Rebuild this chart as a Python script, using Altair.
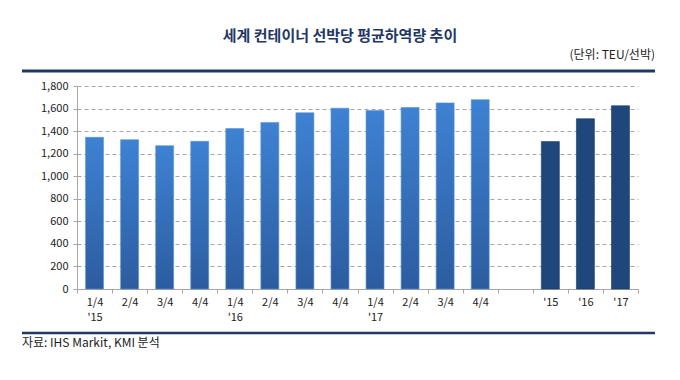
import altair as alt
import pandas as pd

# ---- data ----
quarter_keys = ["q1_15", "q2_15", "q3_15", "q4_15", "q1_16", "q2_16", "q3_16", "q4_16",
                "q1_17", "q2_17", "q3_17", "q4_17"]
quarter_labels = [["1/4", "'15"], "2/4", "3/4", "4/4", ["1/4", "'16"], "2/4", "3/4", "4/4",
                  ["1/4", "'17"], "2/4", "3/4", "4/4"]
quarter_values = [1345, 1324, 1271, 1309, 1423, 1477, 1563, 1603, 1582, 1610, 1650, 1679]

year_keys = ["y15", "y16", "y17"]
year_labels = ["'15", "'16", "'17"]
year_values = [1307, 1510, 1625]

gap_key = "gap"
y_ticks = [0, 200, 400, 600, 800, 1000, 1200, 1400, 1600, 1800]

title_text = "세계 컨테이너 선박당 평균하역량 추이"
unit_text = "(단위: TEU/선박)"
source_text = "자료: IHS Markit, KMI 분석"

# ---- build ----
domain = quarter_keys + [gap_key] + year_keys
df_q = pd.DataFrame({"key": quarter_keys, "value": quarter_values})
df_y = pd.DataFrame({"key": year_keys, "value": year_values})


def js(v):
    if isinstance(v, list):
        return "[" + ",".join('"' + s + '"' for s in v) + "]"
    return '"' + v + '"'


label_expr = '""'
for k, lab in reversed(list(zip(quarter_keys + year_keys, quarter_labels + year_labels))):
    label_expr = f'datum.value == "{k}" ? {js(lab)} : ({label_expr})'

FONT = "Noto Sans CJK KR"
GRAY = "#a6a6a6"
NAVY = "#1f3a64"

x_enc = alt.X(
    "key:N",
    scale=alt.Scale(domain=domain, paddingInner=0, paddingOuter=0),
    axis=alt.Axis(
        title=None, labelExpr=label_expr, labelAngle=0, tickBand="extent",
        tickSize=4, tickColor=GRAY, domainColor=GRAY, labelFontSize=11,
        labelColor="#222222", labelFont=FONT, labelPadding=3, labelLineHeight=15,
        labelBaseline="top", grid=False,
    ),
)
y_enc = alt.Y(
    "value:Q",
    scale=alt.Scale(domain=[0, 1800], nice=False),
    axis=alt.Axis(
        title=None, values=y_ticks, format=",d", grid=True, gridDash=[4, 3],
        gridColor=GRAY, domainColor=GRAY, tickColor=GRAY, tickSize=4,
        labelFontSize=11, labelColor="#222222", labelFont=FONT, labelPadding=5,
    ),
)

grad = alt.Gradient(
    gradient="linear",
    stops=[alt.GradientStop(color="#3e82d3", offset=0),
           alt.GradientStop(color="#2c5c9f", offset=1)],
    x1=0, x2=0, y1=0, y2=1,
)

bars_q = alt.Chart(df_q).mark_bar(size=18, color=grad, stroke="#5b93d6", strokeWidth=0.6).encode(
    x=x_enc, y=y_enc)
bars_y = alt.Chart(df_y).mark_bar(size=18, color="#1f477c", stroke="#193a66", strokeWidth=0.6).encode(
    x=x_enc, y=y_enc)

dummy = alt.Data(values=[{"a": 1}])

top_line = alt.Chart(dummy).mark_rule(color=NAVY, strokeWidth=3, clip=False).encode(
    x=alt.value(-55), x2=alt.value(578), y=alt.value(-15))
bottom_line = alt.Chart(dummy).mark_rule(color=NAVY, strokeWidth=2.5, clip=False).encode(
    x=alt.value(-55), x2=alt.value(578), y=alt.value(247))

title = alt.Chart(dummy).mark_text(
    font=FONT, fontSize=15, fontWeight="bold", color="#1f3864", align="center", baseline="middle",
    clip=False
).encode(x=alt.value(263), y=alt.value(-50), text=alt.value(title_text))
unit = alt.Chart(dummy).mark_text(
    font=FONT, fontSize=12, color="#222222", align="right", baseline="middle", clip=False
).encode(x=alt.value(578), y=alt.value(-31), text=alt.value(unit_text))
source = alt.Chart(dummy).mark_text(
    font=FONT, fontSize=12, color="#222222", align="left", baseline="middle", clip=False
).encode(x=alt.value(-55), y=alt.value(257), text=alt.value(source_text))

chart = alt.layer(bars_q, bars_y, top_line, bottom_line, title, unit, source).properties(
    width=561, height=203,
    autosize=alt.AutoSizeParams(type="none"),
    padding={"left": 69, "top": 78, "right": 34, "bottom": 83},
    background="white",
).configure_view(stroke=None)

chart.save("out.html", embed_options={"renderer": "svg", "actions": False})
